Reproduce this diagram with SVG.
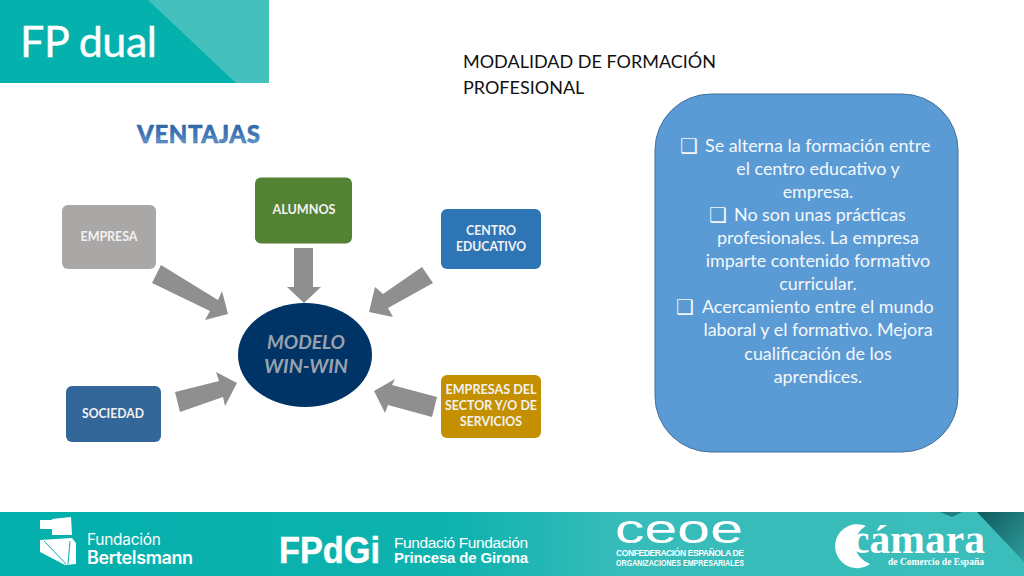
<svg xmlns="http://www.w3.org/2000/svg" width="1024" height="576" viewBox="0 0 1024 576">
<style>
text{font-family:Lato,"Noto Sans",sans-serif}
.box{stroke:none}
.lb{font-size:13px;font-weight:700;fill:#f2f2f2;text-anchor:middle}
.ar{fill:#8f8f8f}
.pn{font-size:17.900px;fill:#f4f7fb;text-anchor:middle}
.pl{font-size:17.900px;fill:#f4f7fb}
.bu{font-size:20px;fill:#f4f7fb;font-family:"DejaVu Sans",sans-serif}
.hd{font-size:18px;fill:#111}
.ft{fill:#fff;font-family:"Liberation Sans",Arial,sans-serif}
.in{fill:#fff;font-family:Inter,"Liberation Sans",sans-serif}
.se{fill:#fff;font-family:"Liberation Serif",serif;font-weight:700}
.mw{font-size:19.500px;font-weight:700;font-style:italic;fill:#98a2ae;text-anchor:middle}
</style>
<defs>
<linearGradient id="vg" x1="0" y1="0" x2="0" y2="1"><stop offset="0" stop-color="#2c5f9e"/><stop offset="0.55" stop-color="#3f78bb"/><stop offset="1" stop-color="#7ba9dc"/></linearGradient>
<linearGradient id="fg" x1="0" y1="0" x2="1" y2="0"><stop offset="0" stop-color="#03b0ac"/><stop offset="0.45" stop-color="#0fb2ae"/><stop offset="0.6" stop-color="#36bcba"/><stop offset="1" stop-color="#3bbdbb"/></linearGradient>
<linearGradient id="dk" x1="0" y1="0" x2="1" y2="1"><stop offset="0" stop-color="#0f5a5c"/><stop offset="1" stop-color="#2f9c9c"/></linearGradient>
</defs>
<g id="header">
<rect width="269" height="83" fill="#04b1ad"/>
<polygon points="148,0 269,0 269,83 236,83" fill="#45c1bd"/>
<text x="20" y="57" font-size="43" fill="#fff" stroke="#fff" stroke-width="0.4" textLength="137">FP dual</text>
</g>
<text id="subtitle" class="hd"><tspan x="463" y="68">MODALIDAD DE FORMACIÓN</tspan><tspan x="463" y="94">PROFESIONAL</tspan></text>
<text id="ventajas" x="137" y="143" font-size="24" font-weight="900" fill="url(#vg)" stroke="#2c5f9e" stroke-width="0.4" textLength="123">VENTAJAS</text>
<g id="connectors">
<polygon class="ar" points="161,265 218,300 222,291 228,314 205,320 210,311 152,283"/>
<polygon class="ar" points="294,248 313,248 313,287 321,287 304,303 287,287 294,287"/>
<polygon class="ar" points="422,267 433,283 388,308 393,317 369,312 375,287 383,294"/>
<polygon class="ar" points="175,392 219,381 216,372 237,383 225,406 223,397 180,412"/>
<polygon class="ar" points="437,397 392,385 395,379 374,391 385,413 388,405 432,417"/>
</g>
<g id="empresa"><rect class="box" x="62" y="205" width="94" height="64" rx="6" fill="#aaa7a7"/><text class="lb" x="109" y="241" textLength="57" lengthAdjust="spacingAndGlyphs">EMPRESA</text></g>
<g id="alumnos"><rect class="box" x="255" y="177.500" width="97" height="66" rx="6" fill="#548235"/><text class="lb" x="304" y="214" textLength="63" lengthAdjust="spacingAndGlyphs">ALUMNOS</text></g>
<g id="centro"><rect class="box" x="441" y="209" width="100" height="60" rx="6" fill="#2e75b6"/><text class="lb" x="491" y="235" textLength="50" lengthAdjust="spacingAndGlyphs">CENTRO</text><text class="lb" x="491" y="251" textLength="70" lengthAdjust="spacingAndGlyphs">EDUCATIVO</text></g>
<g id="sociedad"><rect class="box" x="66" y="386" width="95" height="56" rx="6" fill="#336699"/><text class="lb" x="113" y="418" textLength="62" lengthAdjust="spacingAndGlyphs">SOCIEDAD</text></g>
<g id="empresas"><rect class="box" x="441" y="375" width="100" height="63" rx="6" fill="#c49000"/><text class="lb" x="491" y="394" textLength="91" lengthAdjust="spacingAndGlyphs">EMPRESAS DEL</text><text class="lb" x="491" y="410" textLength="92" lengthAdjust="spacingAndGlyphs">SECTOR Y/O DE</text><text class="lb" x="491" y="426" textLength="62" lengthAdjust="spacingAndGlyphs">SERVICIOS</text></g>
<g id="modelo"><ellipse cx="305" cy="355" rx="67" ry="52" fill="#003366"/><text class="mw" x="306" y="349" textLength="78" lengthAdjust="spacingAndGlyphs">MODELO</text><text class="mw" x="306" y="373" textLength="84" lengthAdjust="spacingAndGlyphs">WIN-WIN</text></g>
<g id="panel">
<rect x="655" y="94" width="303" height="358" rx="56" fill="#5b9bd5" stroke="#41719c" stroke-width="1"/>
<text class="bu" x="680" y="153">❑</text><text class="pl" x="705" y="152">Se alterna la formación entre</text>
<text class="pn" x="818" y="175">el centro educativo y</text>
<text class="pn" x="818" y="198">empresa.</text>
<text class="bu" x="709" y="222">❑</text><text class="pl" x="734" y="221">No son unas prácticas</text>
<text class="pn" x="818" y="244">profesionales. La empresa</text>
<text class="pn" x="818" y="267">imparte contenido formativo</text>
<text class="pn" x="818" y="290">curricular.</text>
<text class="bu" x="676" y="314">❑</text><text class="pl" x="702" y="313">Acercamiento entre el mundo</text>
<text class="pn" x="818" y="336">laboral y el formativo. Mejora</text>
<text class="pn" x="818" y="360">cualificación de los</text>
<text class="pn" x="818" y="383">aprendices.</text>
</g>
<g id="footer">
<rect y="512" width="1024" height="64" fill="url(#fg)"/>
<polygon points="977,512 1024,512 1024,562" fill="url(#dk)"/>
<polygon points="940,512 962,512 952,517" fill="#1f7f80"/>
<polygon points="52,519 71,517 72,535 52,535 52,529 40,529 40,520 52,520" fill="#fff"/>
<polygon points="40,540 72,538 76,543 76,564 65,565 40,552" fill="#fff"/>
<line x1="44" y1="541" x2="66" y2="564" stroke="#05b0ac" stroke-width="1"/>
<line x1="70" y1="541" x2="68" y2="564" stroke="#05b0ac" stroke-width="1"/>
<text class="in" x="87" y="545" font-size="15.500" textLength="74">Fundación</text>
<text class="in" x="87" y="564" font-size="18" font-weight="600" textLength="106">Bertelsmann</text>
<text class="ft" x="279" y="563" font-size="37" font-weight="700" textLength="101" lengthAdjust="spacingAndGlyphs" stroke="#fff" stroke-width="0.5">FPdGi</text>
<text class="ft" x="394" y="548" font-size="15.500" textLength="134">Fundació Fundación</text>
<text class="ft" x="394" y="563" font-size="15" font-weight="700" textLength="134">Princesa de Girona</text>
<text class="ft" transform="translate(615 543) scale(1.6 1)" x="0" y="0" font-size="40" textLength="80" lengthAdjust="spacingAndGlyphs">ceoe</text>
<text class="ft" x="616" y="556" font-size="8.500" font-weight="700" textLength="128">CONFEDERACIÓN ESPAÑOLA DE</text>
<text class="ft" x="616" y="566" font-size="8.500" font-weight="700" textLength="128" lengthAdjust="spacingAndGlyphs">ORGANIZACIONES EMPRESARIALES</text>
<path d="M866,526 A22,22 0 1 0 870,564 A26,22 0 0 1 866,526Z" fill="#fff"/>
<text class="se" x="851" y="553" font-size="39" textLength="134" lengthAdjust="spacingAndGlyphs">cámara</text>
<text class="se" x="888" y="565" font-size="9.500" textLength="96">de Comercio de España</text>
</g>
</svg>
